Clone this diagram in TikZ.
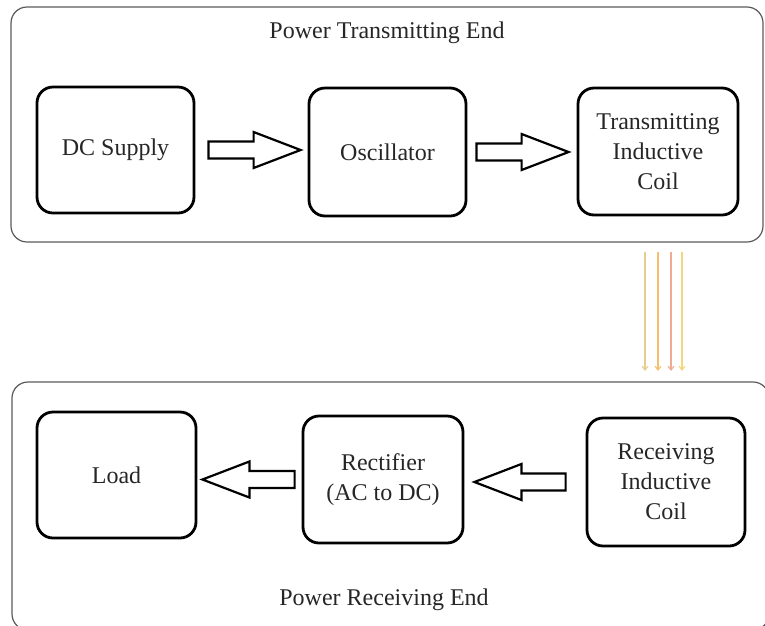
\documentclass[tikz,border=0pt]{standalone}
\usepackage{fontspec}
\setmainfont{Liberation Serif}
\usetikzlibrary{calc,arrows.meta}
\definecolor{txt}{HTML}{262626}
\definecolor{framegray}{HTML}{5A5A5A}
\definecolor{wa}{HTML}{E6CF8E}
\definecolor{wb}{HTML}{F4C070}
\definecolor{wc}{HTML}{EFAA92}
\definecolor{wd}{HTML}{F3D77E}
\newcommand\blockarr[3]{%
  \draw[barrow] ($(#1)+(0,-8.5)$) -- ($(#2)+(#3,-8.5)$) -- ($(#2)+(#3,-18)$) -- (#2)
    -- ($(#2)+(#3,18)$) -- ($(#2)+(#3,8.5)$) -- ($(#1)+(0,8.5)$) -- cycle;}
\begin{document}
\begin{tikzpicture}[x=1pt,y=-1pt,
  block/.style={draw=black, line width=2.8pt, rounded corners=16pt, align=center,
    font=\fontsize{24}{30}\selectfont, text=txt, inner sep=0pt},
  frame/.style={draw=framegray, line width=1.2pt, rounded corners=16pt},
  titletext/.style={font=\fontsize{24}{30}\selectfont, text=txt, inner sep=0pt},
  barrow/.style={draw=black, line width=2.2pt, fill=white, line join=miter},
  wave/.style={line width=1.1pt, -{Straight Barb[length=4pt,width=6pt]}}]
\useasboundingbox (0,0) rectangle (765,625);
% containers
\draw[frame] (11,7) rectangle (763,242);
\draw[frame] (12,382) rectangle (769,630);
\node[titletext] (ttx) at (387,33) {Power Transmitting End};
\node[titletext] (trx) at (384,600) {Power Receiving End};
% blocks
\node[block, minimum width=157pt, minimum height=126pt] (dc) at (115.5,150) {DC Supply};
\node[block, minimum width=157pt, minimum height=128pt] (osc) at (387.5,152) {Oscillator};
\node[block, minimum width=160pt, minimum height=127pt] (tx) at (658,151.5) {Transmitting\\Inductive\\Coil};
\node[block, minimum width=159pt, minimum height=126pt] (load) at (116.5,475) {Load};
\node[block, minimum width=160pt, minimum height=127pt] (rect) at (383,479.5) {Rectifier\\(AC to DC)};
\node[block, minimum width=158pt, minimum height=128pt] (rx) at (666,482) {Receiving\\Inductive\\Coil};
% block arrows
\coordinate (a1s) at ($(dc.east)+(13,0)$);
\coordinate (a1t) at ($(dc.east -| osc.west)+(-7,0)$);
\blockarr{a1s}{a1t}{-47}
\coordinate (a2s) at ($(osc.east)+(9,0)$);
\coordinate (a2t) at ($(osc.east -| tx.west)+(-8,0)$);
\blockarr{a2s}{a2t}{-47}
\coordinate (a3s) at ($(rx.west)+(-20,0)$);
\coordinate (a3t) at ($(rx.west -| rect.east)+(10,0)$);
\blockarr{a3s}{a3t}{47}
\coordinate (a4s) at ($(rect.west)+(-7,0)$);
\coordinate (a4t) at ($(rect.west -| load.east)+(5,0)$);
\blockarr{a4s}{a4t}{47}
% induction field arrows
\coordinate (w1s) at (645,252); \coordinate (w1e) at (645,371);
\coordinate (w2s) at (658,252); \coordinate (w2e) at (658,371);
\coordinate (w3s) at (671,252); \coordinate (w3e) at (671,371);
\coordinate (w4s) at (682,252); \coordinate (w4e) at (682,371);
\draw[wave, wa] (w1s) -- (w1e);
\draw[wave, wb] (w2s) -- (w2e);
\draw[wave, wc] (w3s) -- (w3e);
\draw[wave, wd] (w4s) -- (w4e);
\end{tikzpicture}
\end{document}
